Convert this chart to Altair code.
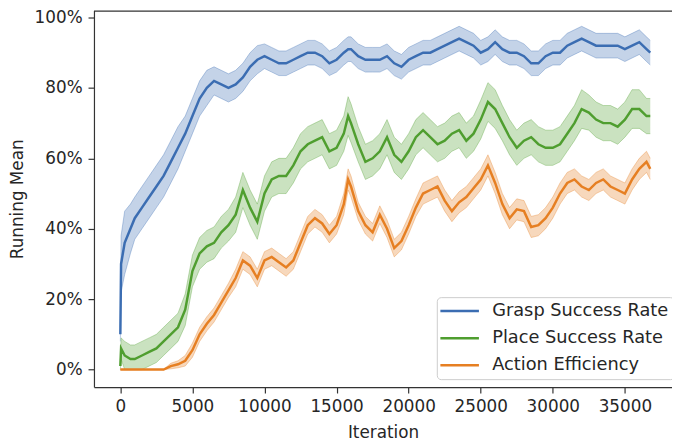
import altair as alt
import pandas as pd

# ---- data (values in %) ----
ITERS = [0, 50, 300, 700, 1000,
         1500, 2000, 2500, 3000, 3500, 4000, 4500, 5000, 5500, 6000,
         6500, 7000, 7500, 8000, 8500, 9000, 9500, 10000, 10500, 11000,
         11500, 12000, 12500, 13000, 13500, 14000, 14500, 15000, 15500,
         15800,
         16000, 16500, 17000, 17500, 18000, 18500, 19000, 19500, 20000, 20500,
         21000, 21500, 22000, 22500, 23000, 23500, 24000, 24500, 25000, 25500,
         26000, 26500, 27000, 27500, 28000, 28500, 29000, 29500, 30000, 30500,
         31000, 31500, 32000, 32500, 33000, 33500, 34000, 34500, 35000, 35500,
         36000, 36500,
         36760]

GRASP = [10, 30, 36, 40, 43,
         46, 49, 52, 55, 59, 63, 67, 72, 77, 80,
         82, 81, 80, 81, 83, 86, 88, 89, 88, 87,
         87, 88, 89, 90, 90, 89, 87, 88, 90,
         91,
         91, 89, 88, 88, 88, 89, 87, 86, 88, 89,
         90, 90, 91, 92, 93, 94, 93, 92, 90, 91,
         93, 91, 90, 90, 89, 87, 87, 89, 90, 90,
         92, 93, 94, 93, 92, 92, 92, 92, 91, 92,
         93, 91,
         90]

PLACE = [1, 6, 4, 3, 3,
         4, 5, 6, 8, 10, 12, 17, 28, 33, 35,
         36, 39, 41, 44, 51, 46, 42, 50, 54, 55,
         55, 58, 62, 64, 65, 66, 62, 63, 67,
         72,
         70, 64, 59, 60, 62, 66, 61, 59, 62, 66,
         68, 66, 64, 65, 67, 68, 65, 67, 71, 76,
         74, 70, 66, 63, 65, 66, 64, 63, 63, 64,
         67, 70, 74, 73, 71, 70, 70, 69, 71, 74,
         74, 72,
         72]

EFFICIENCY = [0, 0, 0, 0, 0,
              0, 0, 0, 0, 1, 1.5, 2.5, 5.5, 10, 13,
              15.5, 19, 22.5, 26, 31, 29.5, 26, 31, 32, 30.5,
              29, 31, 36, 41, 43, 41.5, 38.5, 41, 47,
              54,
              52, 45, 41, 39, 44, 40, 34.5, 36.5, 41, 46,
              50, 51, 52, 48, 45, 47.5, 49, 51.5, 54, 58,
              53, 47, 43, 45.5, 45, 40.5, 41, 43, 46, 50,
              53, 54, 52, 51, 53, 54, 52, 51, 50, 54,
              57, 59,
              57]

# half-width of the shaded band (%)
GRASP_BAND = [2, 8, 9, 7, 6,
              6, 6, 6, 6, 6, 6, 5, 5, 5, 5,
              4, 4, 4, 4, 4, 4, 4, 3.5, 3.5, 3.5,
              3.5, 3.5, 3.5, 3.5, 3.5, 3.5, 3.5, 3.5, 3.5,
              3.5,
              3.5, 3.5, 3.5, 3.5, 3.5, 3.5, 3.5, 3.5, 3.5, 3.5,
              3.5, 3.5, 3.5, 3.5, 3.5, 3.5, 3.5, 3.5, 3.5, 3.5,
              3.5, 3.5, 3.5, 3.5, 3.5, 3.5, 3.5, 3.5, 3.5, 3.5,
              3.5, 3.5, 3.5, 3.5, 3.5, 3.5, 3.5, 3.5, 3.5, 3.5,
              3.5, 3.5,
              3.5]

PLACE_BAND = [1, 3, 4, 4, 4,
              4, 4, 4, 4, 4, 4, 4.5, 4.5, 4.5, 4.5,
              4.5, 4.5, 4.5, 5, 5, 5, 5, 5, 5, 5,
              5, 5, 5, 5, 5, 5, 5, 5, 5,
              5.5,
              5.5, 5, 5, 5, 5, 5, 5, 5, 5, 5,
              5, 5, 5, 5, 5, 5, 5, 5, 5.5, 5.5,
              5.5, 5, 5, 5, 5, 5, 5, 5, 5, 5,
              5, 5, 5.5, 5, 5, 5, 5, 5, 5, 5.5,
              5.5, 5,
              5]

EFF_BAND = [0, 0, 0, 0, 0,
            0, 0, 0, 0, 0.8, 1, 1.5, 2, 2, 2,
            2, 2, 2, 2.5, 2.5, 2.5, 2.5, 2.5, 2.5, 2.5,
            2.5, 2.5, 2.5, 2.5, 2.5, 2.5, 2.5, 2.5, 3,
            3,
            3, 2.5, 2.5, 2.5, 2.5, 2.5, 2.5, 2.5, 2.5, 2.5,
            3, 3, 3, 3, 3, 3, 3, 3, 3, 3,
            3, 3, 3, 3, 3, 3, 3, 3, 3, 3,
            3, 3, 3, 3, 3, 3, 3, 3, 3, 3,
            3, 3,
            3]

SERIES = ["Grasp Success Rate", "Place Success Rate", "Action Efficiency"]
COLORS = ["#3b6db2", "#4f9e2f", "#e67f22"]
X_TICKS = [0, 5000, 10000, 15000, 20000, 25000, 30000, 35000]
Y_TICKS = [0, 0.2, 0.4, 0.6, 0.8, 1.0]

rows = []
for k, (name, vals, band) in enumerate(zip(SERIES, [GRASP, PLACE, EFFICIENCY],
                                            [GRASP_BAND, PLACE_BAND, EFF_BAND])):
    for it, v, b in zip(ITERS, vals, band):
        rows.append({"series": name, "k": k, "iteration": it,
                     "value": v / 100.0,
                     "lo": max(v - b, 0) / 100.0,
                     "hi": (v + b) / 100.0})
df = pd.DataFrame(rows)

W, H = 585, 381
xscale = alt.Scale(domain=[-1830, 38268], nice=False, zero=False)
yscale = alt.Scale(domain=[-0.0497, 1.0196], nice=False, zero=False)
xaxis = alt.Axis(values=X_TICKS, format="d", title="Iteration", grid=False,
                 labelPadding=6, titlePadding=10, labelFlush=False)
yaxis = alt.Axis(values=Y_TICKS, format=".0%", title="Running Mean", grid=False,
                 labelPadding=6, titlePadding=8, labelFlush=False)

legend = alt.Legend(title=None, orient="none", legendX=347, legendY=290,
                    symbolType="M-1.6,0H4.4", symbolSize=169, symbolStrokeWidth=2.5,
                    symbolOpacity=1, labelFontSize=18, labelOffset=33,
                    labelLimit=400, padding=5, rowPadding=9.5,
                    fillColor="rgba(255,255,255,0.8)", strokeColor="#cccccc",
                    cornerRadius=4, labelColor="#262626")
color = alt.Color("series:N", scale=alt.Scale(domain=SERIES, range=COLORS), legend=legend)

base = alt.Chart(df)

band = base.mark_area(opacity=0.3).encode(
    x=alt.X("iteration:Q", scale=xscale, axis=xaxis),
    y=alt.Y("lo:Q", scale=yscale, axis=yaxis),
    y2="hi:Q",
    color=color,
)
edge_lo = base.mark_line(strokeWidth=1, opacity=0.35).encode(
    x=alt.X("iteration:Q", scale=xscale, axis=xaxis),
    y=alt.Y("lo:Q", scale=yscale, axis=yaxis),
    color=color,
)
edge_hi = base.mark_line(strokeWidth=1, opacity=0.35).encode(
    x=alt.X("iteration:Q", scale=xscale, axis=xaxis),
    y=alt.Y("hi:Q", scale=yscale, axis=yaxis),
    color=color,
)
line = base.mark_line(strokeWidth=2.5).encode(
    x=alt.X("iteration:Q", scale=xscale, axis=xaxis),
    y=alt.Y("value:Q", scale=yscale, axis=yaxis),
    color=color,
)
top_spine = alt.Chart(pd.DataFrame({"a": [0]})).mark_rule(color="#333333", strokeWidth=1.2).encode(
    y=alt.value(0.5), x=alt.value(0), x2=alt.value(W)
)

chart = alt.layer(band, edge_lo, edge_hi, line, top_spine).properties(
    width=W, height=H,
    autosize=alt.AutoSizeParams(type="none"),
    padding={"left": 87, "top": 0, "right": 0, "bottom": 56},
).configure(font="DejaVu Sans").configure_view(stroke=None).configure_axis(
    labelFont="DejaVu Sans", titleFont="DejaVu Sans",
    labelFontSize=17, titleFontSize=17, titleFontWeight="normal",
    labelColor="#262626", titleColor="#262626",
    domainColor="#333333", tickColor="#333333",
    domainWidth=1.2, tickWidth=1.2, tickSize=6,
).configure_legend(labelFont="DejaVu Sans")

chart.save("out.html", embed_options={"renderer": "svg", "actions": False})
